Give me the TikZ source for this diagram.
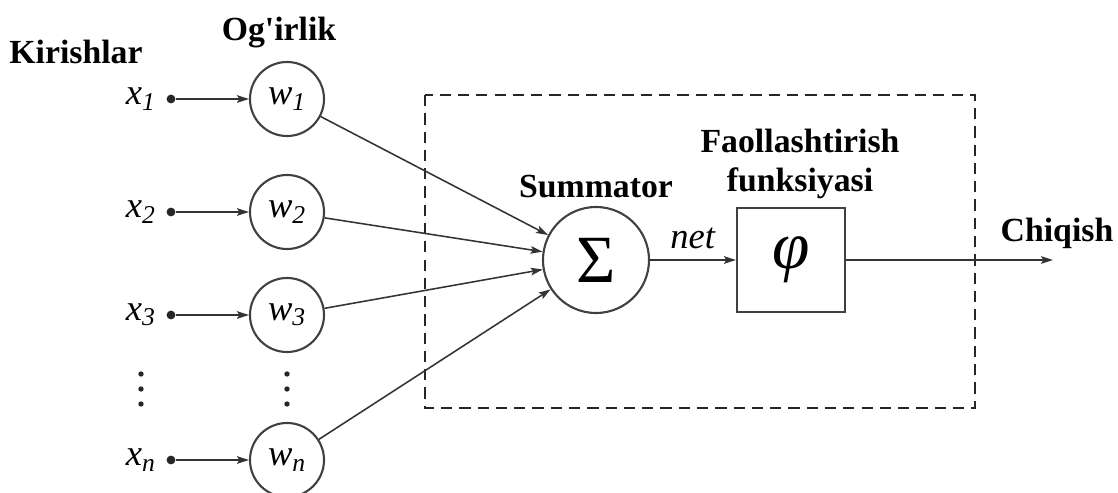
\documentclass[tikz,border=0pt]{standalone}
\usepackage{fontspec}
\setmainfont{Liberation Serif}
\usetikzlibrary{positioning,arrows.meta}

\newcommand{\vsub}[2]{\textit{#1}\textsubscript{\textit{#2}}}

\begin{document}
\begin{tikzpicture}[
  x=0.025cm, y=-0.025cm,
  lbl/.style   = {font=\fontsize{24}{28}\selectfont\bfseries, align=center, inner sep=0pt},
  var/.style   = {font=\fontsize{26}{28}\selectfont, inner sep=0pt},
  wgt/.style   = {draw=black!75, line width=1.5pt, circle, minimum size=1.85cm,
                  inner sep=0pt, font=\fontsize{26}{28}\selectfont},
  blk/.style   = {draw=black!75, line width=1.5pt, inner sep=0pt,
                  font=\fontsize{48}{48}\selectfont},
  inpt/.style  = {circle, fill=black!85, minimum size=2.2mm, inner sep=0pt},
  vdot/.style  = {fill=black!85},
  flow/.style  = {-{Stealth[length=3mm, width=1.9mm, inset=0.6mm]}, line width=1.1pt, draw=black!80},
  frame/.style = {draw=black!85, line width=1.9pt, dash pattern=on 8pt off 5pt}
]
\useasboundingbox (0,0) rectangle (1118,493);

% ------------------------------------------------------------- kirishlar --
\foreach \i/\k/\y in {1/1/99, 2/2/212, 3/3/315, 4/n/460} {
  \node[inpt] (in\i) at (171,\y) {};
  \node[var, left=2.6mm of in\i] (x\i) {\vsub{x}{\k}};
  \node[wgt] (w\i) at (287,\y) {\vsub{w}{\k}};
  \draw[flow] (in\i) -- (w\i);
}
\foreach \y in {374,389,404} {
  \fill[vdot] (141,\y) circle (1.9pt);
  \fill[vdot] (287,\y) circle (1.9pt);
}

\node[lbl] (kir) at (76,52)  {Kirishlar};
\node[lbl] (ogr) at (279,33) {Og\textquotesingle irlik};

% --------------------------------------------------------------- neyron --
\draw[frame] (425,95) rectangle (975,408);

\node[blk, circle, minimum size=2.65cm] (sum) at (596,260) {Σ};
\node[blk, minimum width=2.7cm, minimum height=2.62cm] (act) at (791,260) {\textit{φ}};
\coordinate (out) at (1053,260);

\node[lbl] (summ) at (596,187) {Summator};
\node[lbl] (faol) at (800,164) {Faollashtirish\\funksiyasi};
\node[lbl] (chiq) at (1057,233) {Chiqish};

% ---------------------------------------------------------------- arcs --
\foreach \i in {1,...,4} \draw[flow] (w\i) -- (sum);
\draw[flow] (sum) -- (act) node[var, midway, above=2.5mm] (net) {\textit{net}};
\draw[flow] (act) -- (out);

\end{tikzpicture}
\end{document}
